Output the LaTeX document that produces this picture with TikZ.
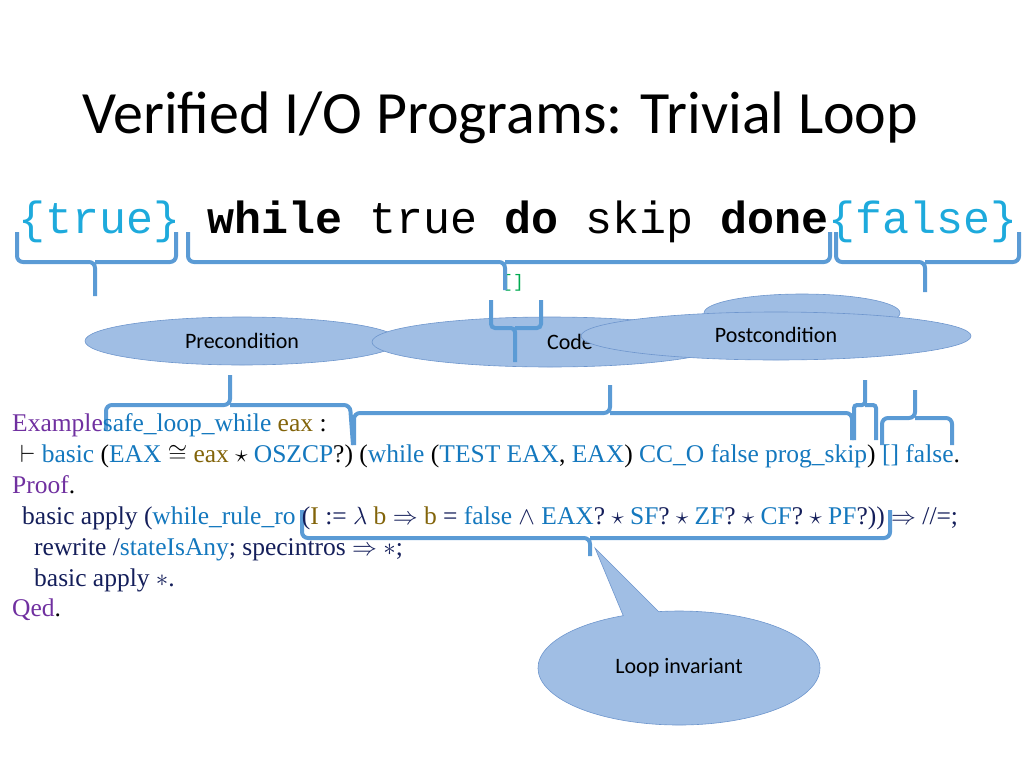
\documentclass[tikz,border=0pt]{standalone}
\usepackage{fontspec}
\usepackage{amssymb}
\setmainfont{Liberation Serif}
\newfontfamily\carlfont{Carlito}
\newfontfamily\courfont{Liberation Mono}
\usetikzlibrary{shapes.geometric,shapes.callouts}
\definecolor{brc}{RGB}{91,155,213}
\definecolor{elf}{RGB}{160,190,228}
\definecolor{eld}{RGB}{110,150,205}
\definecolor{cpur}{RGB}{112,48,160}
\definecolor{cblu}{RGB}{20,120,190}
\definecolor{colv}{RGB}{130,100,10}
\definecolor{cnav}{RGB}{20,30,90}
\definecolor{ccy}{RGB}{30,170,220}
\definecolor{cgr}{RGB}{0,170,80}
\begin{document}
\begin{tikzpicture}[x=1pt,y=-1pt,
  br/.style={draw=brc,line width=4pt,rounded corners=6pt},
  ell/.style={ellipse,draw=eld,fill=elf,line width=0.6pt,inner sep=0pt},
  lt/.style={anchor=base west,inner sep=0pt,font=\fontsize{25.5}{25}\selectfont}]
\useasboundingbox (0,0) rectangle (1024,768);
\node[anchor=base west,inner sep=0pt,font=\carlfont\fontsize{60}{60}\selectfont] (title) at (82,133) {Verified I/O Programs: Trivial Loop};
\node[anchor=base west,inner sep=0pt,font=\courfont\fontsize{45}{45}\selectfont] (code) at (18,233)
 {\textcolor{ccy}{\{true\}} \textbf{while} true \textbf{do} skip \textbf{done}\textcolor{ccy}{\{false\}}};
\node[inner sep=0pt,font=\courfont\fontsize{18}{18}\selectfont,text=cgr] (sq) at (513,283) {[]};
% top braces
\draw[br] (17,232) -- (17,262) -- (95,262) -- (95,296) (95,262) -- (176,262) -- (176,232);
\draw[br] (188,232) -- (188,262) -- (505,262) -- (505,290) (505,262) -- (830,262) -- (830,232);
\draw[br] (836,232) -- (836,262) -- (925,262) -- (925,292) (925,262) -- (1019,262) -- (1019,232);
% ellipses
\node[ell,minimum width=196pt,minimum height=38pt] (hid) at (802,313) {};
\node[ell,minimum width=314pt,minimum height=48pt,font=\carlfont\fontsize{22}{22}\selectfont] (pre) at (242,341) {Precondition};
\node[ell,minimum width=356pt,minimum height=50pt,font=\carlfont\fontsize{22}{22}\selectfont] (cod) at (550,342) {\hspace*{40pt}Code};
\node[ell,minimum width=390pt,minimum height=48pt,font=\carlfont\fontsize{22}{22}\selectfont] (post) at (776,336) {\raisebox{3pt}{Postcondition}};
\draw[br,rounded corners=4pt] (491,300) -- (491,328) -- (515,328) -- (515,362) (515,328) -- (541,328) -- (541,300);
% lower braces
\draw[br] (106,430) -- (106,405) -- (230,405) -- (230,375) (230,405) -- (350,405) -- (353,445);
\draw[br] (354,445) -- (354,413) -- (610,413) -- (610,385) (610,413) -- (852,413) -- (852,440);
\draw[br,rounded corners=3pt] (854,440) -- (854,405) -- (865,405) -- (865,380) (865,405) -- (876,405) -- (876,440);
\draw[br] (882,445) -- (882,418) -- (915,418) -- (915,390) (915,418) -- (952,418) -- (952,445);
\draw[br] (302,510) -- (302,538) -- (590,538) -- (590,556) (590,538) -- (890,538) -- (890,510);
% text
\node[lt] (l1) at (12,431) {\textcolor{cpur}{Example}\textcolor{cblu}{safe\_loop\_while} \textcolor{colv}{eax} :};
\node[lt] (l2) at (20,462) {$\vdash$ \textcolor{cblu}{basic} (\textcolor{cblu}{EAX} $\cong$ \textcolor{colv}{eax} $\star$ \textcolor{cblu}{OSZCP}?) (\textcolor{cblu}{while} (\textcolor{cblu}{TEST EAX}, \textcolor{cblu}{EAX}) \textcolor{cblu}{CC\_O false prog\_skip}) \textcolor{cblu}{[]} \textcolor{cblu}{false}.};
\node[lt,text=cpur] (l3) at (12,493) {Proof\textcolor{black}{.}};
\node[lt,text=cnav] (l4) at (22,524) {basic apply (\textcolor{cblu}{while\_rule\_ro} (\textcolor{colv}{I} := $\lambda$ \textcolor{colv}{b} $\Rightarrow$ \textcolor{colv}{b} = \textcolor{cblu}{false} $\wedge$ \textcolor{cblu}{EAX}? $\star$ \textcolor{cblu}{SF}? $\star$ \textcolor{cblu}{ZF}? $\star$ \textcolor{cblu}{CF}? $\star$ \textcolor{cblu}{PF}?)) $\Rightarrow$ //=;};
\node[lt,text=cnav] (l5) at (34,555) {rewrite /\textcolor{cblu}{stateIsAny}; specintros $\Rightarrow$ $*$;};
\node[lt,text=cnav] (l6) at (34,586) {basic apply $*$.};
\node[lt,text=cpur] (l7) at (12,616) {Qed\textcolor{black}{.}};
\node[ellipse callout,draw=eld,fill=elf,line width=0.6pt,minimum width=282pt,minimum height=114pt,
  callout absolute pointer={(595,548)},font=\carlfont\fontsize{22}{22}\selectfont] (inv) at (679,668) {Loop invariant};
\end{tikzpicture}
\end{document}
